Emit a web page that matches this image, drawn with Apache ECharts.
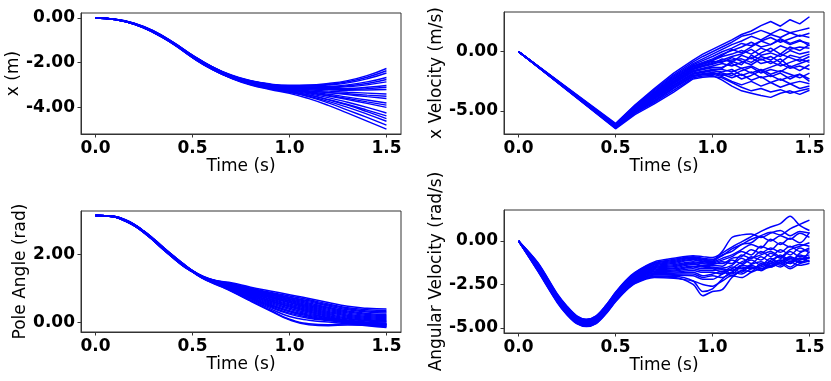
<!DOCTYPE html>
<html>
<head>
<meta charset="utf-8">
<script src="https://cdn.jsdelivr.net/npm/echarts@6/dist/echarts.min.js"></script>
<style>
    html, body { margin: 0; padding: 0; background: #fff; }
    #chart { width: 831px; height: 381px; }
</style>
</head>
<body>
<div id="chart"></div>
<script>
// time steps (s)
var posTimeSteps = [0, 0.1, 0.2, 0.3, 0.4, 0.5, 0.6, 0.7, 0.8, 0.9, 1.0, 1.1, 1.2, 1.3, 1.4, 1.5];
var velTimeSteps = [0, 0.5, 0.6, 0.7, 0.8, 0.9, 0.95, 1.0, 1.05, 1.1, 1.15, 1.2, 1.25, 1.3, 1.35, 1.4, 1.45, 1.5];
var angleTimeSteps = [0, 0.05, 0.1, 0.15, 0.2, 0.25, 0.3, 0.35, 0.4, 0.45, 0.5, 0.55, 0.6, 0.65, 0.7, 0.8, 0.9, 1.0, 1.1, 1.2, 1.3, 1.4, 1.5];
var angVelTimeSteps = [0, 0.1, 0.2, 0.25, 0.3, 0.35, 0.4, 0.45, 0.5, 0.55, 0.6, 0.7, 0.8, 0.9, 0.95, 1.0, 1.05, 1.1, 1.15, 1.2, 1.25, 1.3, 1.35, 1.4, 1.45, 1.5];

// tick labels
var timeTicks = [0, 0.5, 1.0, 1.5];
var posTicks = [0, -2, -4];
var velTicks = [0, -5];
var angleTicks = [0, 2];
var angVelTicks = [0, -2.5, -5];

// x (m)
var posLines = [
    [0, -0.05, -0.23, -0.58, -1.08, -1.66, -2.17, -2.55, -2.80, -2.95, -3.01, -3.00, -2.93, -2.80, -2.58, -2.26],
    [0, -0.05, -0.24, -0.59, -1.09, -1.67, -2.18, -2.57, -2.82, -2.97, -3.03, -3.02, -2.97, -2.85, -2.65, -2.36],
    [0, -0.05, -0.24, -0.59, -1.09, -1.67, -2.18, -2.57, -2.82, -2.97, -3.03, -3.04, -3.00, -2.90, -2.72, -2.46],
    [0, -0.06, -0.24, -0.60, -1.10, -1.68, -2.19, -2.58, -2.83, -2.98, -3.06, -3.08, -3.06, -2.99, -2.86, -2.66],
    [0, -0.06, -0.25, -0.60, -1.10, -1.69, -2.20, -2.59, -2.84, -2.99, -3.07, -3.10, -3.09, -3.03, -2.93, -2.75],
    [0, -0.06, -0.25, -0.61, -1.11, -1.69, -2.21, -2.60, -2.85, -3.00, -3.08, -3.11, -3.11, -3.07, -2.99, -2.86],
    [0, -0.06, -0.25, -0.61, -1.11, -1.70, -2.21, -2.60, -2.85, -3.01, -3.10, -3.14, -3.16, -3.15, -3.10, -3.02],
    [0, -0.06, -0.25, -0.61, -1.12, -1.70, -2.22, -2.61, -2.86, -3.02, -3.11, -3.16, -3.19, -3.19, -3.16, -3.10],
    [0, -0.06, -0.26, -0.62, -1.12, -1.71, -2.22, -2.61, -2.86, -3.02, -3.12, -3.17, -3.21, -3.23, -3.22, -3.20],
    [0, -0.06, -0.26, -0.62, -1.13, -1.72, -2.23, -2.62, -2.87, -3.04, -3.14, -3.21, -3.27, -3.32, -3.36, -3.40],
    [0, -0.06, -0.26, -0.62, -1.13, -1.72, -2.24, -2.63, -2.89, -3.06, -3.17, -3.26, -3.33, -3.39, -3.45, -3.50],
    [0, -0.06, -0.26, -0.63, -1.13, -1.73, -2.24, -2.63, -2.89, -3.06, -3.17, -3.26, -3.34, -3.43, -3.52, -3.60],
    [0, -0.06, -0.26, -0.63, -1.14, -1.73, -2.25, -2.64, -2.91, -3.08, -3.19, -3.30, -3.41, -3.54, -3.67, -3.80],
    [0, -0.07, -0.27, -0.63, -1.14, -1.74, -2.25, -2.65, -2.92, -3.09, -3.21, -3.33, -3.46, -3.60, -3.75, -3.90],
    [0, -0.07, -0.27, -0.64, -1.14, -1.74, -2.26, -2.66, -2.93, -3.10, -3.22, -3.35, -3.49, -3.65, -3.82, -4.00],
    [0, -0.07, -0.27, -0.64, -1.15, -1.75, -2.27, -2.67, -2.94, -3.12, -3.25, -3.39, -3.56, -3.77, -4.00, -4.25],
    [0, -0.07, -0.27, -0.64, -1.15, -1.75, -2.27, -2.68, -2.96, -3.14, -3.28, -3.44, -3.64, -3.87, -4.12, -4.38],
    [0, -0.07, -0.28, -0.65, -1.15, -1.76, -2.28, -2.68, -2.96, -3.15, -3.29, -3.45, -3.66, -3.90, -4.19, -4.50],
    [0, -0.07, -0.28, -0.65, -1.16, -1.77, -2.29, -2.69, -2.97, -3.16, -3.32, -3.50, -3.73, -4.00, -4.30, -4.62],
    [0, -0.07, -0.28, -0.65, -1.16, -1.77, -2.29, -2.69, -2.98, -3.17, -3.33, -3.53, -3.80, -4.12, -4.45, -4.79],
    [0, -0.07, -0.28, -0.66, -1.17, -1.78, -2.30, -2.70, -3.00, -3.20, -3.37, -3.61, -3.91, -4.26, -4.61, -4.97]
];

// x Velocity (m/s)
var velLines = [
    [0, -6.05, -4.50, -3.10, -1.80, -0.70, -0.20, 0.20, 0.60, 1.00, 1.45, 1.75, 2.20, 2.55, 2.15, 2.70, 2.35, 2.95],
    [0, -6.10, -4.55, -3.20, -1.95, -0.85, -0.40, 0.00, 0.40, 0.80, 1.30, 1.50, 1.80, 1.50, 1.90, 1.60, 1.80, 2.00],
    [0, -6.15, -4.60, -3.30, -2.05, -1.00, -0.60, -0.20, 0.20, 0.60, 0.90, 1.30, 1.00, 1.45, 1.20, 1.60, 1.30, 1.55],
    [0, -6.15, -4.65, -3.40, -2.15, -1.10, -0.75, -0.40, 0.00, 0.30, 0.70, 0.50, 0.90, 1.20, 0.80, 1.10, 1.40, 1.20],
    [0, -6.20, -4.70, -3.45, -2.25, -1.20, -0.90, -0.60, -0.20, 0.10, 0.40, 0.80, 0.40, 0.60, 1.00, 0.60, 0.90, 0.70],
    [0, -6.22, -4.72, -3.50, -2.30, -1.25, -0.95, -0.70, -0.30, 0.20, -0.10, 0.40, 0.90, 0.60, 1.10, 0.70, 1.00, 0.50],
    [0, -6.20, -4.75, -3.55, -2.35, -1.30, -1.00, -0.75, -0.40, -0.20, 0.10, -0.20, 0.30, 0.00, 0.50, 0.20, 0.40, 0.30],
    [0, -6.25, -4.85, -3.70, -2.50, -1.40, -1.05, -0.80, -0.90, -0.50, -0.80, -1.10, -0.60, -1.00, -0.60, -1.30, -1.00, -0.70],
    [0, -6.25, -4.80, -3.60, -2.45, -1.40, -1.15, -0.90, -0.70, -0.40, -0.20, 0.20, -0.30, -0.10, -0.40, 0.10, -0.20, 0.00],
    [0, -6.28, -4.82, -3.65, -2.50, -1.45, -1.20, -1.00, -0.60, -0.90, -0.30, -0.60, -0.10, 0.30, -0.20, 0.40, 0.10, 0.60],
    [0, -6.25, -4.85, -3.70, -2.55, -1.50, -1.25, -1.05, -0.80, -0.70, -0.60, -0.90, -0.40, -0.70, -0.20, -0.50, -0.80, -0.40],
    [0, -6.30, -4.90, -3.75, -2.60, -1.60, -1.40, -1.20, -1.00, -1.20, -0.90, -0.50, -1.00, -0.80, -1.20, -0.90, -0.60, -0.90],
    [0, -6.32, -4.92, -3.80, -2.65, -1.65, -1.45, -1.30, -1.40, -0.80, -1.10, -0.30, -0.70, -0.40, -0.90, -0.30, -0.50, -0.20],
    [0, -6.30, -4.95, -3.85, -2.70, -1.70, -1.50, -1.35, -1.30, -1.00, -1.40, -1.20, -1.60, -1.30, -1.00, -1.40, -1.20, -1.50],
    [0, -6.35, -5.00, -3.90, -2.80, -1.80, -1.65, -1.50, -1.50, -1.70, -1.40, -1.80, -1.50, -1.90, -1.60, -1.90, -2.20, -1.80],
    [0, -6.38, -5.02, -3.95, -2.85, -1.85, -1.70, -1.55, -1.80, -2.00, -1.60, -1.30, -1.80, -1.50, -1.70, -1.20, -1.60, -1.10],
    [0, -6.35, -5.05, -4.00, -2.90, -1.90, -1.75, -1.60, -1.70, -1.50, -2.00, -1.70, -2.20, -2.00, -2.40, -2.10, -1.90, -2.30],
    [0, -6.40, -5.10, -4.10, -3.00, -2.00, -1.85, -1.75, -1.90, -2.20, -1.90, -2.40, -2.10, -2.60, -2.30, -2.70, -2.50, -2.70],
    [0, -6.42, -5.12, -4.15, -3.05, -2.05, -1.90, -1.80, -2.00, -1.80, -2.30, -2.00, -1.60, -2.10, -1.80, -2.30, -1.90, -2.50],
    [0, -6.40, -5.15, -4.20, -3.10, -2.10, -1.95, -1.90, -2.10, -2.50, -2.80, -2.50, -2.90, -2.60, -3.00, -2.70, -3.10, -2.90],
    [0, -6.45, -5.20, -4.30, -3.25, -2.20, -2.05, -2.00, -2.40, -2.90, -3.30, -3.50, -3.70, -3.85, -3.50, -3.30, -3.60, -3.25],
    [0, -6.50, -5.30, -4.40, -3.40, -2.30, -2.15, -2.10, -2.20, -2.60, -3.00, -3.30, -3.10, -3.40, -3.20, -3.50, -3.30, -3.10]
];

// Pole Angle (rad)
var angleLines = [
    [3.14, 3.13, 3.11, 3.02, 2.88, 2.68, 2.45, 2.20, 1.96, 1.73, 1.52, 1.36, 1.26, 1.20, 1.16, 1.03, 0.92, 0.81, 0.70, 0.58, 0.47, 0.41, 0.39],
    [3.14, 3.13, 3.11, 3.02, 2.88, 2.68, 2.45, 2.20, 1.96, 1.73, 1.52, 1.36, 1.25, 1.19, 1.14, 1.00, 0.88, 0.77, 0.66, 0.54, 0.43, 0.37, 0.35],
    [3.14, 3.13, 3.11, 3.01, 2.87, 2.67, 2.44, 2.19, 1.95, 1.72, 1.51, 1.35, 1.25, 1.18, 1.13, 0.98, 0.86, 0.74, 0.63, 0.51, 0.40, 0.33, 0.31],
    [3.14, 3.13, 3.11, 3.01, 2.87, 2.67, 2.44, 2.19, 1.95, 1.72, 1.51, 1.35, 1.25, 1.18, 1.12, 0.97, 0.84, 0.72, 0.60, 0.48, 0.37, 0.30, 0.27],
    [3.14, 3.13, 3.10, 3.01, 2.87, 2.67, 2.43, 2.18, 1.94, 1.71, 1.51, 1.35, 1.24, 1.17, 1.11, 0.95, 0.82, 0.69, 0.57, 0.44, 0.33, 0.26, 0.23],
    [3.14, 3.13, 3.10, 3.01, 2.87, 2.67, 2.43, 2.18, 1.94, 1.71, 1.51, 1.35, 1.24, 1.16, 1.10, 0.94, 0.80, 0.67, 0.54, 0.41, 0.30, 0.23, 0.20],
    [3.14, 3.13, 3.10, 3.01, 2.86, 2.66, 2.43, 2.18, 1.94, 1.71, 1.51, 1.34, 1.23, 1.15, 1.09, 0.92, 0.78, 0.64, 0.51, 0.38, 0.27, 0.20, 0.17],
    [3.14, 3.13, 3.10, 3.01, 2.86, 2.66, 2.43, 2.18, 1.94, 1.71, 1.51, 1.34, 1.23, 1.15, 1.08, 0.91, 0.76, 0.62, 0.48, 0.35, 0.24, 0.17, 0.14],
    [3.14, 3.13, 3.10, 3.00, 2.86, 2.66, 2.42, 2.17, 1.93, 1.70, 1.50, 1.34, 1.22, 1.14, 1.07, 0.89, 0.74, 0.59, 0.45, 0.32, 0.21, 0.14, 0.11],
    [3.14, 3.13, 3.10, 3.00, 2.86, 2.66, 2.42, 2.17, 1.93, 1.70, 1.50, 1.34, 1.22, 1.14, 1.06, 0.88, 0.72, 0.57, 0.42, 0.29, 0.18, 0.11, 0.08],
    [3.14, 3.13, 3.10, 3.00, 2.86, 2.66, 2.42, 2.17, 1.93, 1.70, 1.50, 1.33, 1.22, 1.13, 1.05, 0.86, 0.69, 0.54, 0.39, 0.26, 0.15, 0.08, 0.05],
    [3.14, 3.13, 3.10, 3.00, 2.86, 2.66, 2.42, 2.17, 1.93, 1.70, 1.50, 1.33, 1.22, 1.12, 1.04, 0.85, 0.67, 0.51, 0.36, 0.23, 0.12, 0.06, 0.03],
    [3.14, 3.13, 3.10, 3.00, 2.85, 2.65, 2.41, 2.16, 1.92, 1.69, 1.50, 1.33, 1.21, 1.12, 1.03, 0.83, 0.64, 0.48, 0.33, 0.20, 0.10, 0.04, 0.01],
    [3.14, 3.13, 3.10, 3.00, 2.85, 2.65, 2.41, 2.16, 1.92, 1.69, 1.50, 1.33, 1.21, 1.11, 1.02, 0.81, 0.62, 0.45, 0.30, 0.17, 0.07, 0.01, -0.02],
    [3.14, 3.13, 3.10, 2.99, 2.85, 2.65, 2.41, 2.16, 1.92, 1.69, 1.49, 1.32, 1.20, 1.10, 1.01, 0.79, 0.59, 0.41, 0.27, 0.14, 0.05, -0.01, -0.04],
    [3.14, 3.13, 3.10, 2.99, 2.85, 2.65, 2.41, 2.16, 1.92, 1.69, 1.49, 1.32, 1.20, 1.10, 1.00, 0.77, 0.56, 0.38, 0.24, 0.12, 0.03, -0.03, -0.06],
    [3.14, 3.13, 3.09, 2.99, 2.84, 2.64, 2.40, 2.15, 1.91, 1.68, 1.49, 1.32, 1.19, 1.09, 0.99, 0.75, 0.53, 0.34, 0.21, 0.10, 0.02, -0.04, -0.07],
    [3.14, 3.13, 3.09, 2.99, 2.84, 2.64, 2.40, 2.15, 1.91, 1.68, 1.49, 1.32, 1.19, 1.08, 0.98, 0.73, 0.50, 0.31, 0.18, 0.08, 0.00, -0.06, -0.09],
    [3.14, 3.13, 3.09, 2.99, 2.84, 2.64, 2.40, 2.14, 1.90, 1.67, 1.49, 1.31, 1.18, 1.07, 0.97, 0.71, 0.47, 0.27, 0.15, 0.07, -0.01, -0.07, -0.10],
    [3.14, 3.13, 3.09, 2.99, 2.84, 2.64, 2.40, 2.14, 1.90, 1.67, 1.49, 1.31, 1.18, 1.07, 0.96, 0.69, 0.44, 0.24, 0.12, 0.05, -0.02, -0.08, -0.12],
    [3.14, 3.13, 3.09, 2.99, 2.84, 2.64, 2.40, 2.14, 1.90, 1.67, 1.48, 1.31, 1.18, 1.06, 0.94, 0.66, 0.40, 0.17, 0.06, 0.01, -0.04, -0.10, -0.15],
    [3.14, 3.13, 3.09, 2.98, 2.83, 2.63, 2.39, 2.13, 1.89, 1.66, 1.48, 1.30, 1.17, 1.05, 0.92, 0.63, 0.36, 0.09, -0.04, -0.07, -0.05, -0.05, -0.06],
    [3.14, 3.13, 3.09, 2.98, 2.83, 2.63, 2.39, 2.13, 1.89, 1.66, 1.48, 1.30, 1.16, 1.04, 0.91, 0.62, 0.34, 0.07, -0.07, -0.10, -0.08, -0.09, -0.12]
];

// Angular Velocity (rad/s)
var angVelLines = [
    [0, -1.25, -3.05, -3.75, -4.30, -4.50, -4.30, -3.70, -2.95, -2.30, -1.80, -1.20, -1.00, -0.85, -0.90, -0.95, -0.70, -0.35, -0.05, 0.25, 0.55, 0.80, 1.00, 1.42, 0.90, 0.60],
    [0, -1.28, -3.08, -3.78, -4.32, -4.52, -4.32, -3.73, -2.98, -2.33, -1.83, -1.25, -1.06, -0.90, -1.00, -1.05, -0.85, -0.45, -0.20, 0.10, 0.30, 0.50, 0.35, 0.70, 0.95, 1.20],
    [0, -1.30, -3.10, -3.80, -4.35, -4.54, -4.35, -3.75, -3.01, -2.36, -1.87, -1.29, -1.12, -0.95, -1.05, -1.10, -0.60, 0.20, 0.35, 0.40, 0.20, 0.45, 0.60, 0.30, 0.55, 0.45],
    [0, -1.33, -3.13, -3.83, -4.37, -4.57, -4.37, -3.78, -3.04, -2.40, -1.90, -1.34, -1.18, -1.00, -1.10, -1.15, -0.80, -0.60, -0.20, -0.10, 0.25, 0.00, 0.30, 0.10, 0.45, 0.20],
    [0, -1.36, -3.16, -3.86, -4.40, -4.59, -4.40, -3.81, -3.07, -2.43, -1.94, -1.39, -1.24, -1.05, -1.15, -1.20, -1.00, -0.80, -0.50, -0.20, -0.40, 0.10, -0.20, 0.15, -0.10, 0.50],
    [0, -1.38, -3.18, -3.88, -4.42, -4.61, -4.42, -3.83, -3.10, -2.46, -1.97, -1.44, -1.30, -1.10, -1.20, -1.25, -1.10, -0.90, -0.60, -0.80, -0.30, -0.50, -0.10, -0.35, -0.20, -0.30],
    [0, -1.41, -3.21, -3.91, -4.44, -4.63, -4.44, -3.86, -3.12, -2.49, -2.01, -1.48, -1.36, -1.20, -1.25, -1.30, -1.30, -1.00, -0.90, -0.50, -0.70, -0.40, -0.65, -0.30, -0.60, -0.50],
    [0, -1.43, -3.23, -3.93, -4.47, -4.65, -4.47, -3.88, -3.15, -2.52, -2.04, -1.53, -1.42, -1.25, -1.30, -1.35, -1.20, -1.30, -0.80, -1.00, -0.60, -0.90, -0.50, -0.80, -0.40, -0.70],
    [0, -1.46, -3.26, -3.96, -4.49, -4.68, -4.49, -3.91, -3.18, -2.55, -2.07, -1.58, -1.48, -1.30, -1.40, -1.40, -1.45, -1.10, -1.30, -0.90, -1.10, -0.70, -1.00, -0.60, -0.90, -0.80],
    [0, -1.49, -3.29, -3.99, -4.51, -4.70, -4.51, -3.94, -3.21, -2.58, -2.11, -1.63, -1.55, -1.35, -1.45, -1.50, -1.55, -1.40, -1.00, -1.30, -0.90, -1.20, -0.80, -1.10, -1.00, -0.95],
    [0, -1.51, -3.31, -4.01, -4.54, -4.72, -4.54, -3.96, -3.24, -2.62, -2.14, -1.67, -1.60, -1.45, -1.50, -1.55, -1.60, -1.70, -1.40, -1.10, -1.40, -1.00, -1.30, -0.90, -1.20, -1.10],
    [0, -1.54, -3.34, -4.04, -4.56, -4.74, -4.56, -3.99, -3.27, -2.65, -2.18, -1.72, -1.67, -1.50, -1.60, -1.60, -1.80, -1.50, -1.60, -1.35, -1.20, -1.45, -1.10, -1.30, -1.00, -1.20],
    [0, -1.57, -3.37, -4.07, -4.58, -4.77, -4.58, -4.02, -3.30, -2.68, -2.21, -1.77, -1.73, -1.60, -1.70, -1.70, -1.65, -1.90, -1.50, -1.60, -1.40, -1.20, -1.40, -1.00, -1.25, -0.90],
    [0, -1.59, -3.39, -4.09, -4.61, -4.79, -4.61, -4.04, -3.33, -2.71, -2.24, -1.82, -1.79, -1.70, -1.80, -1.80, -1.90, -1.60, -1.80, -1.40, -1.60, -1.30, -1.10, -1.30, -0.80, -1.00],
    [0, -1.62, -3.42, -4.12, -4.63, -4.81, -4.63, -4.07, -3.36, -2.74, -2.28, -1.86, -1.85, -1.80, -2.00, -1.90, -1.75, -2.00, -1.70, -1.75, -1.30, -1.50, -1.20, -0.90, -1.10, -0.60],
    [0, -1.64, -3.44, -4.14, -4.66, -4.83, -4.66, -4.09, -3.38, -2.77, -2.31, -1.91, -1.91, -1.90, -2.10, -2.00, -2.10, -1.80, -1.40, -1.50, -1.70, -1.10, -0.90, -1.20, -0.70, -0.40],
    [0, -1.67, -3.47, -4.17, -4.68, -4.85, -4.68, -4.12, -3.41, -2.81, -2.35, -1.96, -1.97, -2.00, -2.20, -2.20, -1.90, -1.60, -1.20, -1.00, -0.80, -0.60, -0.90, -0.50, -0.30, -0.10],
    [0, -1.70, -3.50, -4.20, -4.70, -4.88, -4.70, -4.15, -3.44, -2.84, -2.38, -2.01, -2.03, -2.30, -2.90, -2.75, -2.20, -1.80, -1.90, -1.60, -1.50, -1.30, -1.50, -1.20, -1.40, -1.28],
    [0, -1.72, -3.52, -4.22, -4.73, -4.90, -4.73, -4.17, -3.47, -2.87, -2.42, -2.05, -2.09, -2.50, -3.15, -2.90, -2.80, -2.10, -1.70, -1.50, -1.70, -1.40, -1.20, -1.50, -1.10, -1.00],
    [0, -1.75, -3.55, -4.25, -4.75, -4.92, -4.75, -4.20, -3.50, -2.90, -2.45, -2.10, -2.15, -2.30, -2.50, -2.60, -2.30, -2.00, -2.10, -1.80, -1.60, -1.50, -1.30, -1.60, -1.30, -1.15]
];

var FONT = 'DejaVu Sans';
var AXIS_COLOR = '#333333';

var panels = [
    {left: 81, top: 13, height: 121, yMin: -5.19, yMax: 0.224, ticks: posTicks, name: 'x (m)', gap: 56},
    {left: 504, top: 12, height: 122, yMin: -6.94, yMax: 3.35, ticks: velTicks, name: 'x Velocity (m/s)', gap: 55},
    {left: 81, top: 211, height: 121, yMin: -0.285, yMax: 3.27, ticks: angleTicks, name: 'Pole Angle (rad)', gap: 51},
    {left: 504, top: 210, height: 123, yMin: -5.29, yMax: 1.78, ticks: angVelTicks, name: 'Angular Velocity (rad/s)', gap: 57}
];

function makeSeries(times, lines, idx, smooth, width) {
    return lines.map(function (vals) {
        return {
            type: 'line',
            xAxisIndex: idx,
            yAxisIndex: idx,
            showSymbol: false,
            smooth: smooth,
            lineStyle: {color: '#0000ff', width: width},
            data: vals.map(function (v, i) { return [times[i], v]; })
        };
    });
}

var grids = [], xAxes = [], yAxes = [];
panels.forEach(function (p, i) {
    grids.push({
        left: p.left, top: p.top, width: 320, height: p.height,
        show: true, borderColor: AXIS_COLOR, borderWidth: 1
    });
    xAxes.push({
        type: 'value', gridIndex: i, min: -0.075, max: 1.575,
        name: 'Time (s)', nameLocation: 'middle', nameGap: 24,
        nameTextStyle: {fontFamily: FONT, fontSize: 17, color: '#000'},
        axisLine: {show: true, onZero: false, lineStyle: {color: AXIS_COLOR}},
        axisTick: {show: true, length: 3.5, customValues: timeTicks, lineStyle: {color: AXIS_COLOR}},
        axisLabel: {
            customValues: timeTicks, margin: 6,
            formatter: function (v) { return v.toFixed(1); },
            fontFamily: FONT, fontWeight: 'bold', fontSize: 17, color: '#000'
        },
        splitLine: {show: false}
    });
    yAxes.push({
        type: 'value', gridIndex: i, min: p.yMin, max: p.yMax,
        name: p.name, nameLocation: 'middle', nameGap: p.gap, nameRotate: 90,
        nameTextStyle: {fontFamily: FONT, fontSize: 17, color: '#000'},
        axisLine: {show: true, onZero: false, lineStyle: {color: AXIS_COLOR}},
        axisTick: {show: true, length: 3.5, customValues: p.ticks, lineStyle: {color: AXIS_COLOR}},
        axisLabel: {
            customValues: p.ticks, margin: 6,
            formatter: function (v) { return v.toFixed(2); },
            fontFamily: FONT, fontWeight: 'bold', fontSize: 17, color: '#000'
        },
        splitLine: {show: false}
    });
});

var series = []
    .concat(makeSeries(posTimeSteps, posLines, 0, true, 1.4))
    .concat(makeSeries(velTimeSteps, velLines, 1, false, 1.5))
    .concat(makeSeries(angleTimeSteps, angleLines, 2, true, 1.5))
    .concat(makeSeries(angVelTimeSteps, angVelLines, 3, 0.3, 1.5));

var myChart = echarts.init(document.getElementById('chart'));
myChart.setOption({
    animation: false,
    backgroundColor: '#ffffff',
    grid: grids,
    xAxis: xAxes,
    yAxis: yAxes,
    series: series
});
</script>
</body>
</html>
